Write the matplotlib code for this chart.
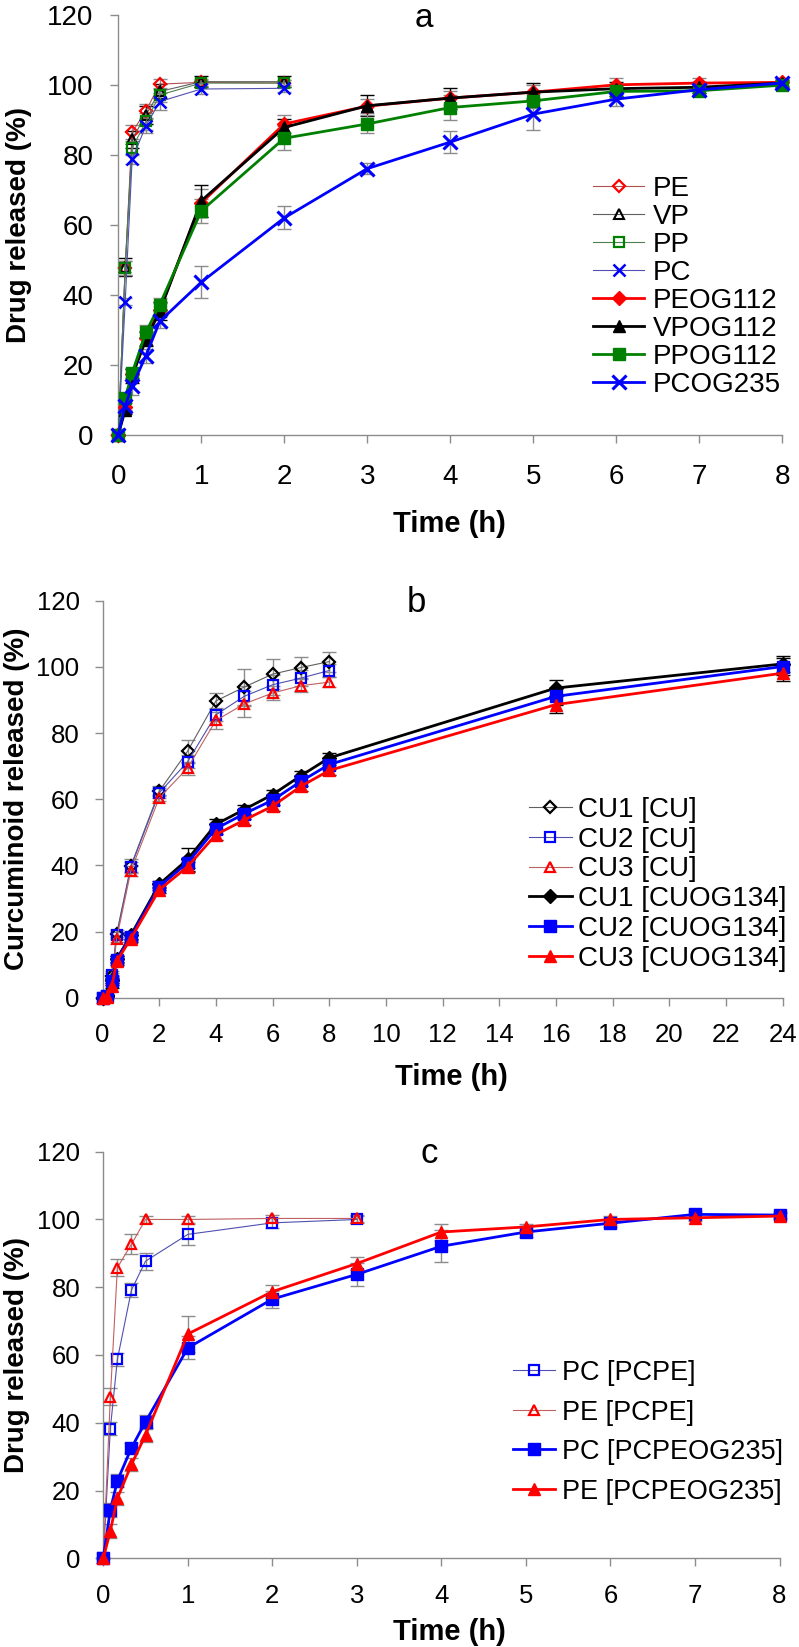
import matplotlib
matplotlib.use("Agg")
import matplotlib.pyplot as plt
from matplotlib.lines import Line2D

plt.rcParams['font.family'] = ['Liberation Sans', 'DejaVu Sans']

W, H = 799, 1647

# ---------------- Data: panel a ----------------
t_fast_a = [0, 1/12, 1/6, 1/3, 0.5, 1, 2]
t_slow_a = [0, 1/12, 1/6, 1/3, 0.5, 1, 2, 3, 4, 5, 6, 7, 8]
PE = [0, 47.8, 86.5, 92.7, 100.3, 100.8, 100.6]
VP = [0, 48.0, 84.5, 91.5, 98.2, 101.0, 101.0]
PP = [0, 47.7, 82.0, 89.6, 97.2, 100.6, 100.6]
PC = [0, 38.0, 78.8, 88.4, 95.3, 98.9, 99.1]
PE_err = [0, 2, 2, 2, 1.5, 1, 1]
VP_err = [0, 2.5, 2.5, 2.5, 2, 1.5, 1.5]
PP_err = [0, 2, 2, 2.5, 2, 1, 1]
PC_err = [0, 1, 1.5, 2, 2.5, 1.5, 1]
PEOG112 = [0, 8.0, 17.2, 27.6, 35.7, 66.3, 88.9, 94.0, 96.3, 98.0, 100.1, 100.6, 100.8]
VPOG112 = [0, 7.0, 16.7, 27.2, 35.3, 66.9, 87.9, 94.1, 96.3, 98.0, 99.0, 99.4, 100.6]
PPOG112 = [0, 10.5, 17.6, 29.3, 37.2, 64.0, 84.8, 88.9, 93.6, 95.5, 98.2, 98.4, 100.0]
PCOG235 = [0, 8.3, 13.8, 22.6, 32.4, 43.6, 62.0, 76.1, 83.7, 91.7, 96.0, 98.7, 100.6]
PEOG112_err = [0, 1, 1.5, 2, 2, 4, 2.5, 2, 2, 2, 2, 1.5, 1]
VPOG112_err = [0, 1, 2, 2, 2.5, 4.5, 2.5, 3, 3, 2.5, 2, 1.5, 1]
PPOG112_err = [0, 1, 1.5, 2, 2, 3.5, 3.5, 2.5, 3.5, 2, 2, 1.5, 1]
PCOG235_err = [0, 1.5, 2.5, 2, 2, 4.6, 3.3, 1.5, 3.1, 4.5, 2, 1.5, 1]

# ---------------- Data: panel b ----------------
t_cu = [0, 1/6, 1/3, 0.5, 1, 2, 3, 4, 5, 6, 7, 8]
t_og = [0, 1/6, 1/3, 0.5, 1, 2, 3, 4, 5, 6, 7, 8, 16, 24]
CU1 = [0, 0.5, 6.6, 19.4, 39.8, 62.4, 74.5, 89.7, 93.9, 97.8, 99.8, 101.6]
CU2 = [0, 0.5, 7.0, 18.9, 39.5, 61.9, 71.3, 85.5, 91.1, 94.6, 96.6, 98.9]
CU3 = [0, 0.3, 5.5, 17.9, 38.3, 60.4, 69.4, 83.8, 88.8, 92.1, 94.3, 95.4]
CU1_err = [0, 0.5, 1, 1, 2, 1.5, 3.4, 2.5, 5.4, 4.5, 3.3, 3]
CU2_err = [0, 0.5, 1, 1, 1.5, 1.5, 2, 2, 3, 3, 2.5, 2]
CU3_err = [0, 0.5, 1, 1, 1.5, 1, 2, 2.5, 3.8, 2, 2, 1.5]
CU1_OG = [0, 0.5, 5.5, 11.7, 18.9, 34.3, 41.8, 52.4, 56.9, 61.4, 67.1, 72.5, 93.6, 100.9]
CU2_OG = [0, 0.5, 5.0, 11.5, 18.5, 33.6, 40.8, 51.1, 55.6, 59.7, 65.4, 70.5, 91.1, 100.1]
CU3_OG = [0, 0.3, 3.5, 11.0, 17.9, 32.6, 39.6, 49.3, 53.7, 57.9, 63.9, 68.7, 88.6, 98.1]
CU1_OG_err = [0, 0.3, 0.5, 1, 1, 1, 3.5, 1.5, 1.5, 1.5, 1.5, 1.5, 2.5, 2.5]
CU2_OG_err = [0, 0.3, 0.5, 1, 1, 1, 1.5, 1.5, 1.5, 1.5, 1.5, 1.5, 2.5, 2.5]
CU3_OG_err = [0, 0.3, 0.5, 1, 1, 1, 1.5, 1.5, 1.5, 1.5, 1.5, 1.5, 2.5, 2.5]

# ---------------- Data: panel c ----------------
t_open_c = [0, 1/12, 1/6, 1/3, 0.5, 1, 2, 3]
t_og_c = [0, 1/12, 1/6, 1/3, 0.5, 1, 2, 3, 4, 5, 6, 7, 8]
PC_PCPE = [0, 38.3, 58.7, 79.2, 87.7, 95.6, 99.0, 100.0]
PE_PCPE = [0, 47.7, 85.8, 92.7, 100.0, 100.0, 100.3, 100.3]
PC_PCPE_err = [0, 2, 2, 2, 2.5, 3, 1.5, 1]
PE_PCPE_err = [0, 2.5, 2.5, 3, 1, 1, 1, 1]
PC_OG = [0, 14.3, 22.9, 32.6, 40.3, 62.1, 76.5, 83.8, 92.1, 96.3, 98.9, 101.5, 101.3]
PE_OG = [0, 8.1, 17.7, 27.7, 36.4, 66.2, 78.7, 87.0, 96.3, 97.8, 100.0, 100.5, 101.0]
PC_OG_err = [0, 2, 2, 1.5, 2, 3.4, 2.5, 3.4, 4.8, 1.5, 1, 1, 1]
PE_OG_err = [0, 2, 2, 2, 2, 5.3, 2, 2, 2.5, 1, 1, 1, 1]

RED, BLUE, GREEN, BLACK = '#ff0000', '#0000ff', '#008000', '#000000'
GRAY = '#8c8c8c'

fig = plt.figure(figsize=(W / 100, H / 100), dpi=100)


def fx(x):
    return x / W


def fy(y):
    return 1 - y / H


def make_ax(left, right, top, bottom):
    return fig.add_axes([fx(left), fy(bottom), (right - left) / W, (bottom - top) / H])


def style_ax(ax, xmax, xstep, tick_fs, xpad, ypad):
    ax.set_xlim(0, xmax)
    ax.set_ylim(0, 120)
    ax.set_xticks(range(0, xmax + 1, xstep))
    ax.set_yticks(range(0, 121, 20))
    for s in ['top', 'right']:
        ax.spines[s].set_visible(False)
    for s in ['left', 'bottom']:
        ax.spines[s].set_color(GRAY)
        ax.spines[s].set_linewidth(1.0)
    ax.tick_params(axis='both', direction='out', length=6, width=1.0, color=GRAY,
                   labelsize=tick_fs, labelcolor='black')
    ax.tick_params(axis='x', pad=xpad)
    ax.tick_params(axis='y', pad=ypad)


def series(ax, t, y, err, color, marker, ms, lw, lcolor, mfc, mew, ecolor, label):
    ax.errorbar(t, y, yerr=err, fmt='none', ecolor=ecolor, elinewidth=1.0,
                capsize=5, capthick=1.0, zorder=2, clip_on=False)
    line, = ax.plot(t, y, color=lcolor, lw=lw, marker=marker, ms=ms, mfc=mfc, mec=color,
                    mew=mew, label=label, zorder=3, clip_on=False)
    return line


def manual_legend(lines, x1, x2, xt, y0, gap, fs):
    cap = 0.716 * fs * 100 / 72.0
    for i, ln in enumerate(lines):
        y = y0 + i * gap
        fig.add_artist(Line2D([fx(x1), fx(x2)], [fy(y), fy(y)], transform=fig.transFigure,
                              color=ln.get_color(), lw=ln.get_linewidth()))
        fig.add_artist(Line2D([fx((x1 + x2) / 2)], [fy(y)], transform=fig.transFigure,
                              linestyle='none', marker=ln.get_marker(),
                              ms=ln.get_markersize(), mfc=ln.get_markerfacecolor(),
                              mec=ln.get_markeredgecolor(), mew=ln.get_markeredgewidth()))
        fig.text(fx(xt), fy(y + cap / 2), ln.get_label(), fontsize=fs,
                 ha='left', va='baseline')


# ---------------- Panel a ----------------
axa = make_ax(118.3, 782.0, 15.3, 434.5)
style_ax(axa, 8, 1, 20, 15, 12)
la = [
    series(axa, t_fast_a, PE, PE_err, RED, 'D', 6.0, 0.8, '#b05050', 'none', 1.6, GRAY, 'PE'),
    series(axa, t_fast_a, VP, VP_err, BLACK, '^', 7.0, 0.8, '#606060', 'none', 1.5, BLACK, 'VP'),
    series(axa, t_fast_a, PP, PP_err, GREEN, 's', 6.5, 0.8, '#508050', 'none', 1.6, GRAY, 'PP'),
    series(axa, t_fast_a, PC, PC_err, BLUE, 'x', 8.0, 0.8, '#5050b0', 'none', 1.8, GRAY, 'PC'),
    series(axa, t_slow_a, PEOG112, PEOG112_err, RED, 'D', 7.0, 2.0, RED, RED, 1.0, GRAY, 'PEOG112'),
    series(axa, t_slow_a, VPOG112, VPOG112_err, BLACK, '^', 9.0, 2.0, BLACK, BLACK, 1.0, BLACK, 'VPOG112'),
    series(axa, t_slow_a, PPOG112, PPOG112_err, GREEN, 's', 8.5, 2.0, GREEN, GREEN, 1.0, GRAY, 'PPOG112'),
    series(axa, t_slow_a, PCOG235, PCOG235_err, BLUE, 'x', 10.0, 2.0, BLUE, BLUE, 2.2, GRAY, 'PCOG235'),
]

# ---------------- Panel b ----------------
axb = make_ax(102.5, 782.6, 600.7, 997.8)
style_ax(axb, 24, 2, 18.5, 12.5, 10.5)
lb = [
    series(axb, t_cu, CU1, CU1_err, BLACK, 'D', 6.0, 0.8, '#606060', 'none', 1.6, GRAY, 'CU1 [CU]'),
    series(axb, t_cu, CU2, CU2_err, BLUE, 's', 6.5, 0.8, '#5050b0', 'none', 1.6, GRAY, 'CU2 [CU]'),
    series(axb, t_cu, CU3, CU3_err, RED, '^', 7.0, 0.8, '#c06060', 'none', 1.6, GRAY, 'CU3 [CU]'),
    series(axb, t_og, CU1_OG, CU1_OG_err, BLACK, 'D', 7.0, 2.0, BLACK, BLACK, 1.0, BLACK, 'CU1 [CUOG134]'),
    series(axb, t_og, CU2_OG, CU2_OG_err, BLUE, 's', 8.0, 2.0, BLUE, BLUE, 1.0, BLACK, 'CU2 [CUOG134]'),
    series(axb, t_og, CU3_OG, CU3_OG_err, RED, '^', 9.0, 2.0, RED, RED, 1.0, BLACK, 'CU3 [CUOG134]'),
]

# ---------------- Panel c ----------------
axc = make_ax(103.3, 779.5, 1151.7, 1558.3)
style_ax(axc, 8, 1, 18.5, 12.5, 10.5)
lc = [
    series(axc, t_open_c, PC_PCPE, PC_PCPE_err, BLUE, 's', 6.5, 0.8, '#5050b0', 'none', 1.6, GRAY, 'PC [PCPE]'),
    series(axc, t_open_c, PE_PCPE, PE_PCPE_err, RED, '^', 7.5, 0.8, '#c06060', 'none', 1.6, GRAY, 'PE [PCPE]'),
    series(axc, t_og_c, PC_OG, PC_OG_err, BLUE, 's', 8.0, 2.0, BLUE, BLUE, 1.0, GRAY, 'PC [PCPEOG235]'),
    series(axc, t_og_c, PE_OG, PE_OG_err, RED, '^', 9.0, 2.0, RED, RED, 1.0, GRAY, 'PE [PCPEOG235]'),
]

# ---------------- Legends (placed row by row) ----------------
manual_legend(la, 593, 644, 653, 186, 28.0, 20)
manual_legend(lb, 529, 571.7, 578, 806.7, 29.9, 20)
manual_legend(lc, 512.6, 555.3, 562, 1370.4, 39.5, 19.5)

# ---------------- Axis labels and titles ----------------
fig.text(fx(393), fy(531.7), 'Time (h)', fontsize=21, fontweight='bold', ha='left', va='baseline')
fig.text(fx(395), fy(1085), 'Time (h)', fontsize=21, fontweight='bold', ha='left', va='baseline')
fig.text(fx(393), fy(1640), 'Time (h)', fontsize=21, fontweight='bold', ha='left', va='baseline')

fig.text(fx(19), fy(225), 'Drug released (%)', fontsize=20, fontweight='bold',
         rotation=90, ha='center', va='center')
fig.text(fx(17), fy(799), 'Curcuminoid released (%)', fontsize=20, fontweight='bold',
         rotation=90, ha='center', va='center')
fig.text(fx(17), fy(1355), 'Drug released (%)', fontsize=20, fontweight='bold',
         rotation=90, ha='center', va='center')

fig.text(fx(424), fy(27), 'a', fontsize=24, ha='center', va='baseline')
fig.text(fx(416.5), fy(611.7), 'b', fontsize=25, ha='center', va='baseline')
fig.text(fx(429), fy(1163), 'c', fontsize=25, ha='center', va='baseline')

fig.savefig('out.png', dpi=100)
